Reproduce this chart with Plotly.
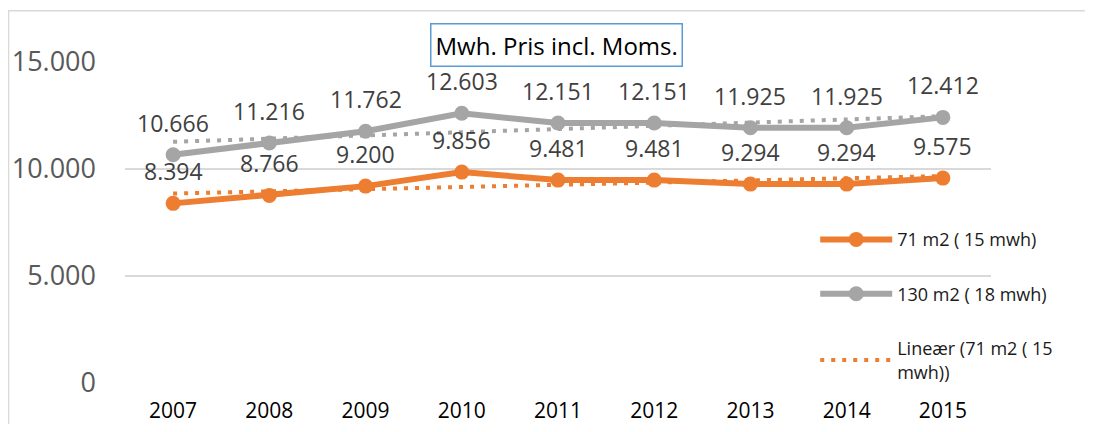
import numpy as np
import plotly.graph_objects as go

years = [2007, 2008, 2009, 2010, 2011, 2012, 2013, 2014, 2015]
small_house = [8394, 8766, 9200, 9856, 9481, 9481, 9294, 9294, 9575]   # 71 m2 (15 mwh)
large_house = [10666, 11216, 11762, 12603, 12151, 12151, 11925, 11925, 12412]  # 130 m2 (18 mwh)
y_ticks = [0, 5000, 10000, 15000]

name_small = "71 m2 ( 15 mwh)"
name_large = "130 m2 ( 18 mwh)"
name_trend = "Lineær (71 m2 ( 15<br>mwh))"
title_text = "Mwh. Pris incl. Moms."

ORANGE = "#ED7D31"
GRAY = "#A5A5A5"
FONT = "Open Sans"


def linear_trend(vals):
    idx = np.arange(len(vals), dtype=float)
    slope, intercept = np.polyfit(idx, np.asarray(vals, dtype=float), 1)
    return [float(slope * i + intercept) for i in idx]


def fmt(v):
    return f"{v:,}".replace(",", ".")


fig = go.Figure()

# trendlines (drawn beneath)
fig.add_trace(go.Scatter(
    x=years, y=linear_trend(large_house), mode="lines", showlegend=False,
    line=dict(color=GRAY, width=4, dash="4px,7px"), hoverinfo="skip"))
fig.add_trace(go.Scatter(
    x=years, y=linear_trend(small_house), mode="lines", name=name_trend,
    legendgroup="c", legendrank=3,
    line=dict(color=ORANGE, width=4, dash="4px,7px"), hoverinfo="skip"))

fig.add_trace(go.Scatter(
    x=years, y=small_house, mode="lines+markers", name=name_small,
    legendgroup="a", legendrank=1,
    line=dict(color=ORANGE, width=6), marker=dict(color=ORANGE, size=15)))
fig.add_trace(go.Scatter(
    x=years, y=large_house, mode="lines+markers", name=name_large,
    legendgroup="b", legendrank=2,
    line=dict(color=GRAY, width=6), marker=dict(color=GRAY, size=15)))

annotations = []
for series in (small_house, large_house):
    for x, v in zip(years, series):
        annotations.append(dict(
            x=x, y=v, xref="x", yref="y", text=fmt(v), showarrow=False,
            yshift=32, xanchor="center", yanchor="middle",
            font=dict(family=FONT, size=23, color="#404040")))

annotations.append(dict(
    x=0.4977, y=1.053, xref="paper", yref="paper", text=title_text,
    showarrow=False, xanchor="center", yanchor="middle",
    font=dict(family=FONT, size=24, color="#000000"),
    bgcolor="white", bordercolor="#5B9BD5", borderwidth=1.5, borderpad=4))

# the page body adds an 8px margin, so the figure is sized to fit the window
fig.update_layout(
    width=1077, height=416,
    margin=dict(l=117, r=94, t=53.5, b=41, autoexpand=False),
    paper_bgcolor="white", plot_bgcolor="white",
    separators=",.",
    font=dict(family=FONT),
    showlegend=True,
    legend=dict(
        x=0.797, y=0.504, xanchor="left", yanchor="top",
        bgcolor="rgba(0,0,0,0)", itemwidth=72, tracegroupgap=28,
        font=dict(family=FONT, size=18, color="#1a1a1a"),
        traceorder="grouped"),
    annotations=annotations,
    shapes=[dict(type="rect", xref="paper", yref="paper",
                 x0=-0.1345, x1=1.3, y0=-0.4, y1=1.16,
                 line=dict(color="#D9D9D9", width=1.5), layer="below")],
    xaxis=dict(range=[2006.5, 2015.5], tickvals=years, tickformat="d",
               showgrid=False, zeroline=False, showline=False, automargin=False,
               ticks="", ticklabelstandoff=13,
               tickfont=dict(family=FONT, size=21, color="#000000")),
    yaxis=dict(range=[0, 15000], tickvals=y_ticks, tickformat=",",
               showgrid=True, gridcolor="#D9D9D9", gridwidth=1.5, automargin=False,
               zeroline=False, showline=False, ticks="", ticklabelstandoff=28,
               tickfont=dict(family=FONT, size=27, color="#595959")),
)

fig.write_html("out.html")
